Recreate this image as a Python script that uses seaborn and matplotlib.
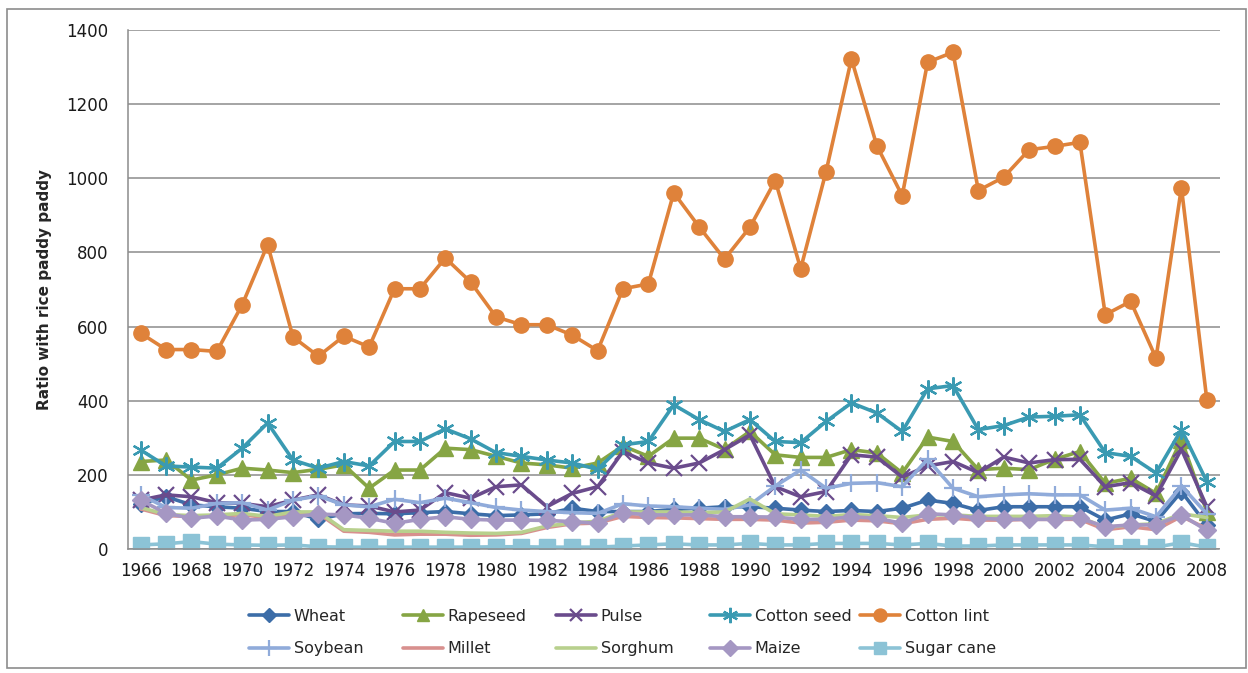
import matplotlib
matplotlib.use("Agg")
import matplotlib.pyplot as plt
import seaborn as sns
import pandas as pd
from matplotlib.lines import Line2D
from matplotlib.patches import Rectangle

years = list(range(1966, 2009))

wheat = [122, 141, 119, 114, 110, 101, 101, 80, 95, 96,
         95, 98, 101, 95, 90, 92, 95, 110, 101, 101,
         101, 107, 110, 114, 114, 110, 105, 101, 104, 101,
         110, 132, 123, 104, 114, 114, 114, 114, 78, 95,
         74, 155, 65]
rapeseed = [236, 240, 186, 200, 218, 213, 206, 215, 227, 164,
            213, 213, 272, 268, 250, 232, 227, 218, 232, 278,
            250, 299, 299, 269, 317, 254, 247, 247, 268, 259,
            205, 302, 290, 214, 218, 214, 242, 263, 177, 191,
            150, 295, 101]
pulse = [132, 146, 141, 125, 123, 114, 132, 146, 119, 116,
         100, 105, 152, 137, 168, 173, 114, 150, 168, 263,
         232, 218, 232, 268, 308, 168, 141, 155, 254, 248,
         194, 224, 236, 206, 248, 232, 241, 242, 168, 179,
         143, 269, 114]
cotton_seed = [267, 224, 221, 218, 272, 340, 240, 218, 236, 224,
               290, 290, 324, 297, 260, 250, 240, 232, 215, 281,
               290, 389, 349, 317, 349, 290, 287, 344, 394, 367,
               317, 432, 441, 322, 333, 356, 358, 362, 260, 250,
               205, 322, 182]
cotton_lint = [582, 538, 538, 533, 659, 821, 572, 520, 574, 545,
               702, 702, 785, 720, 626, 605, 605, 577, 535, 702,
               715, 961, 869, 782, 868, 994, 756, 1018, 1322, 1088,
               953, 1313, 1340, 967, 1003, 1077, 1086, 1097, 632, 668,
               515, 975, 403]
soybean = [146, 112, 110, 123, 125, 105, 132, 143, 119, 114,
           134, 125, 137, 125, 112, 105, 101, 98, 96, 122,
           116, 114, 110, 107, 119, 170, 213, 164, 177, 179,
           168, 242, 164, 141, 146, 149, 146, 146, 105, 110,
           87, 170, 95]
millet = [108, 90, 88, 90, 92, 85, 95, 96, 48, 45,
          38, 40, 40, 37, 38, 42, 58, 68, 70, 88,
          85, 84, 82, 80, 80, 78, 70, 72, 78, 76,
          68, 80, 83, 78, 78, 80, 80, 80, 52, 60,
          52, 88, 55]
sorghum = [112, 93, 90, 92, 96, 88, 100, 100, 52, 50,
           48, 48, 45, 43, 42, 45, 62, 70, 75, 100,
           100, 100, 98, 100, 135, 95, 92, 88, 93, 90,
           85, 92, 92, 88, 88, 88, 90, 86, 58, 65,
           68, 95, 85]
maize = [132, 96, 83, 89, 78, 80, 87, 94, 92, 83,
         69, 80, 87, 80, 78, 78, 77, 74, 69, 98,
         92, 92, 92, 87, 87, 86, 80, 80, 87, 83,
         69, 95, 92, 83, 80, 80, 80, 83, 60, 65,
         65, 92, 50]
sugar_cane = [11, 14, 20, 13, 11, 10, 11, 6, 5, 5,
              5, 5, 5, 5, 6, 6, 5, 5, 5, 8,
              11, 14, 11, 11, 15, 11, 11, 15, 15, 15,
              11, 15, 8, 8, 11, 11, 11, 11, 6, 6,
              5, 17, 5]

names = ["Wheat", "Rapeseed", "Pulse", "Cotton seed", "Cotton lint",
         "Soybean", "Millet", "Sorghum", "Maize", "Sugar cane"]
values = [wheat, rapeseed, pulse, cotton_seed, cotton_lint,
          soybean, millet, sorghum, maize, sugar_cane]

styles = {
    "Wheat": dict(color="#3C6DA8", marker="D", markersize=8),
    "Rapeseed": dict(color="#86A544", marker="^", markersize=11),
    "Pulse": dict(color="#6A4B8C", marker="x", markersize=11, markeredgewidth=1.6),
    "Cotton seed": dict(color="#3A9AB2", marker=(6, 2, 0), markersize=13, markeredgewidth=1.6),
    "Cotton lint": dict(color="#DF823A", marker="o", markersize=11),
    "Soybean": dict(color="#90ABDA", marker="+", markersize=13, markeredgewidth=1.6),
    "Millet": dict(color="#D8908E", marker=None),
    "Sorghum": dict(color="#B8D08D", marker=None),
    "Maize": dict(color="#A597C3", marker="D", markersize=9),
    "Sugar cane": dict(color="#8CC3D6", marker="s", markersize=11),
}

sns.set_style("white")
plt.rcParams["font.family"] = ["DejaVu Sans"]

W, H = 1248, 673
fig = plt.figure(figsize=(W / 100, H / 100), dpi=100)
ax = fig.add_axes([128 / W, (H - 549) / H, (1219.5 - 128) / W, (549 - 30) / H])

for name, vals in zip(names, values):
    st = styles[name]
    df = pd.DataFrame({"Year": years, "Value": vals})
    kw = dict(color=st["color"], lw=2.6)
    if st["marker"] is not None:
        kw.update(marker=st["marker"], markersize=st["markersize"],
                  markeredgecolor=st["color"], markerfacecolor=st["color"],
                  markeredgewidth=st.get("markeredgewidth", 1.0))
    sns.lineplot(data=df, x="Year", y="Value", ax=ax, legend=False, **kw)

grey = "#8C8C8C"
ax.set_xlim(1965.5, 2008.5)
ax.set_ylim(0, 1400)
ax.set_yticks(range(0, 1401, 200))
ax.set_xticks(range(1966, 2009, 2))
ax.set_xticks([y - 0.5 for y in range(1966, 2010)], minor=True)
ax.tick_params(axis="x", which="major", length=0, pad=9, labelsize=12, labelcolor="#1a1a1a")
ax.tick_params(axis="x", which="minor", length=5, width=1.1, color=grey, direction="out")
ax.tick_params(axis="y", length=5, width=1.1, color=grey, direction="out", pad=9,
               labelsize=12, labelcolor="#1a1a1a")
ax.yaxis.grid(True, color=grey, lw=1.1)
ax.xaxis.grid(False)
ax.set_axisbelow(True)
for s in ["top", "right"]:
    ax.spines[s].set_visible(False)
for s in ["left", "bottom"]:
    ax.spines[s].set_color(grey)
    ax.spines[s].set_linewidth(1.1)
ax.set_xlabel("")
ax.set_ylabel("Ratio with rice paddy paddy", fontsize=11, fontweight="bold", labelpad=10)

# legend, one block per column
columns = [("Wheat", "Soybean"), ("Rapeseed", "Millet"), ("Pulse", "Sorghum"),
           ("Cotton seed", "Maize"), ("Cotton lint", "Sugar cane")]
text_x = [296, 450, 603, 757, 907]
for (a, b), tx in zip(columns, text_x):
    handles = []
    for nm in (a, b):
        st = styles[nm]
        kw = dict(color=st["color"], lw=2.6)
        if st["marker"] is not None:
            kw.update(marker=st["marker"], markersize=st["markersize"] * 0.85,
                      markeredgecolor=st["color"], markerfacecolor=st["color"],
                      markeredgewidth=st.get("markeredgewidth", 1.0))
        handles.append(Line2D([], [], label=nm, **kw))
    fig.legend(handles=handles, loc="center left",
               bbox_to_anchor=((tx - 47) / W, 1 - 632.5 / H),
               bbox_transform=fig.transFigure, frameon=False, fontsize=11.5,
               borderpad=0, borderaxespad=0, handlelength=2.5,
               handletextpad=0.3, labelspacing=1.1)

fig.patches.append(Rectangle((7 / W, 5 / H), (1246 - 7) / W, (664 - 5) / H,
                             transform=fig.transFigure, fill=False,
                             edgecolor="#8C8C8C", lw=1.2))

fig.savefig("out.png", dpi=100)
